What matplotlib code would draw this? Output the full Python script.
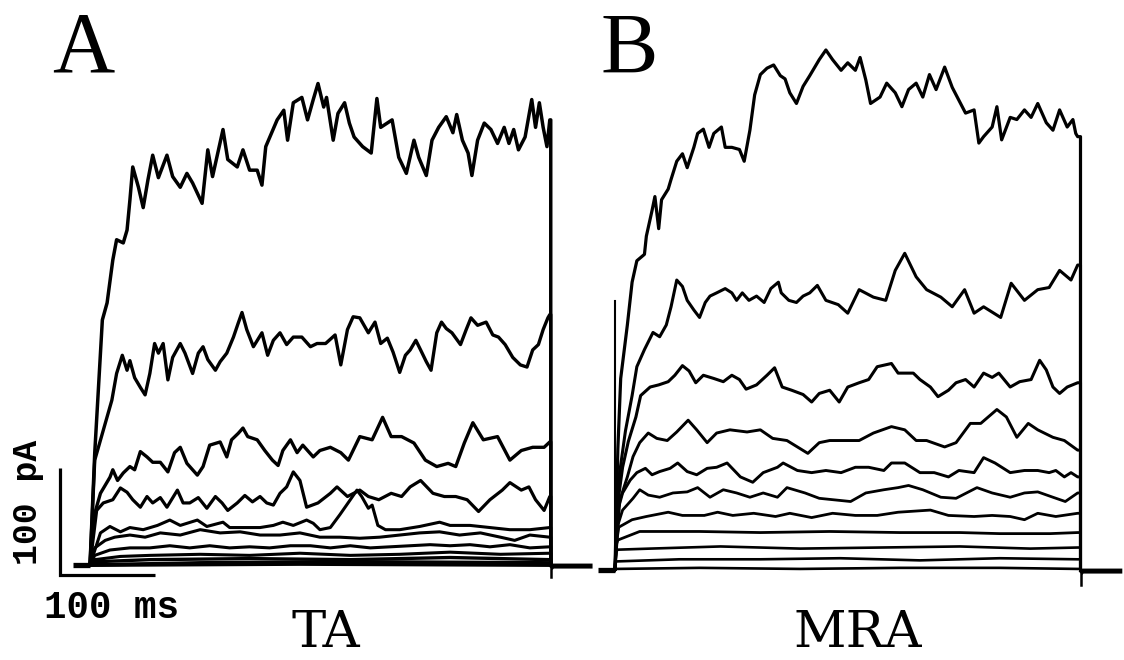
import matplotlib
matplotlib.use("Agg")
import matplotlib.pyplot as plt

# ---- traces: time in ms from pulse onset, current in pA ----
# Panel A (TA)
ta1_t = [0, 5, 13, 18, 24, 28, 35, 39, 42, 45, 51, 56, 61, 66, 72, 81, 87, 95, 102, 108,
         118, 124, 129, 140, 145, 155, 161, 168, 176, 181, 185, 197, 204, 208, 214, 223, 229, 235, 240, 246,
         249, 256, 261, 268, 273, 278, 287, 296, 302, 306, 318, 325, 333, 341, 346, 354, 360, 367, 375, 382,
         386, 392, 398, 402, 408, 415, 422, 429, 436, 441, 446, 451, 458, 465, 469, 473, 477, 481, 484]
ta1_i = [0, 105, 229, 245, 285, 304, 301, 313, 341, 372, 353, 334, 360, 383, 362, 383, 363, 353, 366, 357,
         338, 388, 363, 407, 379, 372, 388, 369, 369, 355, 391, 416, 425, 397, 432, 437, 416, 435, 450, 428,
         437, 397, 422, 432, 413, 400, 391, 385, 436, 409, 416, 381, 366, 397, 381, 364, 397, 409, 419, 404,
         421, 397, 385, 364, 397, 413, 407, 394, 409, 394, 407, 388, 400, 435, 409, 432, 409, 391, 416]

ta2_t = [0, 5, 14, 23, 28, 34, 39, 42, 47, 53, 58, 63, 68, 72, 77, 82, 87, 95, 100, 108,
         114, 119, 124, 132, 137, 144, 151, 156, 160, 165, 172, 181, 187, 193, 200, 207, 214, 223, 232, 239,
         248, 258, 264, 271, 277, 284, 293, 300, 306, 313, 319, 326, 332, 337, 343, 348, 354, 359, 365, 370,
         375, 381, 390, 396, 401, 408, 417, 424, 430, 437, 445, 453, 460, 466, 472, 477, 482, 484]
ta2_i = [0, 98, 126, 154, 179, 196, 182, 191, 175, 166, 159, 179, 207, 198, 207, 173, 194, 207, 198, 179,
         198, 204, 192, 182, 190, 198, 213, 226, 236, 220, 204, 217, 196, 210, 217, 206, 213, 213, 204, 207,
         207, 215, 187, 220, 232, 231, 217, 227, 207, 212, 199, 180, 196, 201, 210, 201, 190, 182, 217, 227,
         221, 217, 206, 220, 231, 224, 227, 215, 213, 206, 194, 187, 185, 201, 206, 220, 231, 234]

ta3_t = [0, 3, 11, 21, 24, 29, 35, 42, 47, 53, 60, 66, 74, 82, 89, 95, 102, 113, 119, 126,
         137, 144, 149, 156, 161, 166, 176, 184, 192, 198, 203, 211, 218, 224, 235, 242, 253, 264, 272, 284,
         297, 308, 317, 328, 341, 353, 365, 377, 385, 394, 403, 414, 429, 442, 454, 466, 478, 484]
ta3_i = [0, 42, 67, 82, 89, 79, 86, 92, 89, 106, 101, 96, 96, 87, 105, 110, 95, 84, 92, 112,
         115, 101, 117, 123, 128, 120, 117, 107, 98, 93, 107, 117, 105, 112, 101, 107, 110, 105, 98, 120,
         117, 138, 120, 120, 114, 98, 92, 95, 92, 114, 133, 117, 120, 98, 107, 110, 110, 115]

ta4_t = [0, 7, 14, 24, 32, 39, 45, 53, 60, 66, 74, 81, 92, 98, 105, 114, 123, 132, 139, 145,
         155, 163, 171, 179, 186, 193, 200, 207, 214, 221, 228, 240, 253, 260, 271, 284, 293, 304, 317, 328,
         337, 348, 361, 373, 385, 397, 409, 421, 434, 442, 454, 462, 469, 478, 484]
ta4_i = [0, 51, 58, 61, 72, 68, 61, 54, 64, 58, 63, 54, 70, 58, 58, 63, 53, 64, 58, 51,
         58, 65, 59, 64, 58, 56, 67, 73, 87, 79, 54, 58, 67, 73, 64, 70, 64, 61, 67, 64,
         73, 79, 67, 64, 64, 61, 50, 61, 70, 77, 70, 73, 61, 51, 64]

ta5_t = [0, 11, 21, 32, 42, 56, 71, 84, 95, 113, 123, 140, 147, 165, 179, 193, 203, 214, 228, 235,
         242, 253, 263, 274, 281, 286, 293, 297, 303, 311, 326, 347, 368, 379, 400, 421, 442, 463, 484]
ta5_i = [0, 30, 36, 31, 35, 33, 37, 42, 37, 42, 36, 40, 35, 35, 35, 37, 40, 37, 42, 39,
         33, 35, 47, 61, 70, 64, 53, 56, 37, 33, 33, 36, 40, 37, 37, 35, 33, 33, 35]

ta6_t = [0, 5, 16, 26, 42, 58, 74, 95, 116, 137, 158, 179, 200, 221, 242, 263, 284, 305, 326, 347,
         368, 389, 411, 432, 447, 463, 484]
ta6_i = [0, 16, 23, 26, 28, 26, 30, 28, 33, 30, 31, 28, 28, 30, 26, 26, 25, 26, 28, 30,
         31, 28, 30, 26, 23, 28, 26]

ta7_t = [0, 5, 21, 42, 63, 84, 105, 126, 147, 168, 189, 211, 232, 253, 274, 295, 316, 337, 358, 379,
         400, 421, 442, 463, 484]
ta7_i = [0, 9, 14, 16, 16, 18, 16, 18, 16, 17, 16, 18, 18, 16, 18, 16, 17, 18, 19, 18,
         19, 17, 19, 16, 17]

ta8_t = [0, 5, 32, 63, 116, 168, 221, 274, 326, 379, 432, 484]
ta8_i = [0, 5, 8, 9, 10, 9, 11, 9, 10, 12, 10, 11]

ta9_t = [0, 5, 63, 168, 274, 379, 484]
ta9_i = [0, 3, 5, 6, 5, 7, 5]

ta10_t = [0, 116, 274, 484]
ta10_i = [0, 2, 3, 2]

ta11_t = [0, 221, 484]
ta11_i = [0, 1, 0]

# Panel B (MRA)
mra1_t = [0, 3, 6, 13, 18, 23, 31, 33, 39, 42, 46, 49, 56, 59, 65, 71, 76, 83, 87, 93,
          99, 104, 112, 116, 123, 131, 136, 142, 147, 153, 160, 167, 174, 179, 184, 191, 198, 205, 215, 222,
          229, 238, 245, 253, 258, 264, 269, 279, 286, 295, 302, 309, 317, 324, 331, 338, 347, 355, 362, 369,
          378, 383, 388, 397, 402, 407, 416, 423, 431, 438, 445, 454, 461, 468, 476, 482, 485, 487]
mra1_i = [0, 113, 179, 229, 269, 289, 295, 312, 336, 349, 319, 346, 356, 365, 382, 389, 376, 395, 408, 412,
          395, 408, 414, 395, 395, 393, 382, 411, 444, 463, 469, 472, 462, 459, 446, 436, 452, 462, 477, 486,
          477, 467, 474, 467, 479, 458, 436, 442, 455, 446, 433, 449, 455, 442, 463, 449, 470, 451, 439, 427,
          430, 399, 405, 414, 433, 402, 423, 421, 430, 423, 436, 418, 411, 430, 414, 421, 408, 405]

mra2_t = [0, 3, 11, 18, 23, 31, 40, 47, 54, 59, 65, 71, 76, 83, 89, 95, 100, 107, 116, 123,
          128, 134, 141, 149, 157, 164, 172, 175, 183, 191, 198, 205, 213, 222, 235, 245, 257, 272, 285, 295,
          305, 317, 328, 343, 355, 368, 378, 388, 406, 417, 431, 445, 457, 468, 480, 487]
mra2_i = [0, 79, 130, 163, 190, 206, 222, 218, 229, 246, 271, 265, 252, 243, 236, 250, 256, 259, 263, 259,
          252, 259, 252, 256, 250, 263, 269, 259, 252, 250, 256, 259, 266, 252, 248, 240, 262, 255, 252, 280,
          296, 274, 262, 255, 246, 262, 240, 246, 236, 268, 252, 262, 264, 280, 271, 285]

mra3_t = [0, 3, 8, 14, 22, 27, 37, 46, 56, 63, 71, 78, 85, 93, 104, 114, 123, 131, 138, 149,
          160, 168, 176, 186, 198, 207, 215, 226, 236, 245, 257, 267, 276, 291, 298, 314, 321, 332, 340, 351,
          359, 369, 378, 388, 397, 404, 416, 426, 438, 447, 454, 461, 468, 476, 487]
mra3_i = [0, 63, 96, 120, 143, 163, 171, 173, 176, 182, 191, 186, 175, 182, 179, 176, 182, 178, 169, 173,
          182, 189, 171, 168, 164, 157, 165, 168, 157, 171, 175, 178, 190, 193, 184, 184, 178, 171, 162, 168,
          175, 178, 171, 184, 180, 184, 171, 176, 178, 196, 187, 171, 165, 171, 175]

mra4_t = [0, 5, 13, 19, 26, 35, 44, 55, 65, 77, 86, 97, 107, 121, 139, 153, 166, 181, 192, 203,
          215, 226, 241, 257, 272, 291, 305, 317, 328, 347, 359, 374, 385, 402, 412, 423, 435, 445, 461, 473, 487]
mra4_i = [0, 65, 87, 106, 119, 128, 123, 121, 129, 140, 131, 119, 128, 131, 129, 131, 123, 121, 115, 109,
          119, 121, 121, 121, 128, 134, 131, 121, 121, 115, 119, 137, 137, 150, 143, 124, 137, 131, 124, 121, 112]

mra5_t = [0, 3, 8, 16, 23, 32, 39, 47, 58, 66, 76, 86, 97, 107, 118, 132, 145, 156, 171, 177,
          192, 207, 222, 238, 253, 267, 283, 291, 305, 321, 336, 351, 362, 378, 388, 400, 416, 431, 445, 457,
          464, 473, 480, 487]
mra5_i = [0, 56, 72, 84, 91, 95, 89, 92, 95, 100, 92, 89, 95, 96, 100, 87, 82, 91, 96, 100,
          93, 91, 93, 91, 96, 96, 93, 100, 100, 91, 91, 87, 93, 91, 105, 100, 91, 93, 93, 91,
          93, 87, 91, 87]

mra6_t = [0, 2, 8, 19, 26, 35, 47, 61, 76, 87, 100, 114, 128, 142, 156, 171, 181, 200, 215, 248,
          264, 283, 298, 309, 324, 343, 359, 381, 397, 416, 431, 445, 461, 474, 487]
mra6_i = [0, 39, 56, 67, 75, 70, 68, 72, 73, 77, 68, 75, 72, 68, 72, 68, 77, 72, 67, 64,
          72, 75, 77, 79, 75, 68, 67, 77, 72, 68, 72, 73, 68, 64, 72]

mra7_t = [0, 2, 4, 18, 33, 56, 71, 94, 108, 124, 146, 169, 184, 207, 229, 253, 276, 298, 332, 351,
          378, 397, 416, 431, 445, 464, 487]
mra7_i = [0, 28, 40, 47, 50, 54, 51, 51, 54, 51, 53, 50, 53, 49, 53, 51, 51, 54, 56, 51,
          50, 51, 50, 47, 53, 50, 53]

mra8_t = [0, 1, 3, 26, 89, 153, 226, 300, 363, 405, 458, 487]
mra8_i = [0, 23, 28, 36, 36, 35, 36, 35, 35, 34, 34, 35]

mra9_t = [0, 1, 3, 37, 111, 195, 279, 363, 437, 487]
mra9_i = [0, 17, 19, 20, 22, 20, 21, 22, 20, 21]

mra10_t = [0, 1, 68, 153, 237, 321, 405, 487]
mra10_i = [0, 8, 10, 10, 11, 9, 11, 10]

mra11_t = [0, 1, 89, 195, 300, 405, 487]
mra11_i = [0, 1, 2, 1, 2, 2, 1]

# capacitive spike at the start of the MRA pulses
mra_spike_i = 251

TA_PULSE_MS = 485
MRA_PULSE_MS = 490
TA_UNDERSHOOT = -11
MRA_UNDERSHOOT = -14

# ---- layout (pixels of the 1124x660 picture) ----
W, H = 1124, 660
PX_PER_MS = 0.95
PX_PER_PA = 1.07
A_ONSET, A_BASE = 90, 565
B_ONSET, B_BASE = 615, 570

TRACE_COLOR = "black"

fig = plt.figure(figsize=(W / 100, H / 100), dpi=100)
fig.patch.set_facecolor("white")


def panel_axes(onset, base):
    ax = fig.add_axes([0, 0, 1, 1])
    ax.set_facecolor("none")
    ax.set_xlim(-onset / PX_PER_MS, (W - onset) / PX_PER_MS)
    ax.set_ylim(-(H - base) / PX_PER_PA, base / PX_PER_PA)
    ax.set_axis_off()
    return ax


def draw_panel(ax, traces, pulse, undershoot, widths):
    for (t, i), lw in zip(traces, widths):
        ax.plot(list(t) + [pulse, pulse], list(i) + [i[-1], 0],
                color=TRACE_COLOR, lw=lw, solid_joinstyle="round", solid_capstyle="round")
    # holding current before and after the pulse
    ax.plot([-18, 0], [0, 0], color=TRACE_COLOR, lw=3.8, solid_capstyle="butt")
    ax.plot([pulse, pulse], [0, undershoot], color=TRACE_COLOR, lw=1.8)
    ax.plot([pulse, pulse + 2, pulse + 44], [-3, -1, -1], color=TRACE_COLOR, lw=3.6,
            solid_capstyle="butt")


axA = panel_axes(A_ONSET, A_BASE)
axB = panel_axes(B_ONSET, B_BASE)

ta_traces = [(ta1_t, ta1_i), (ta2_t, ta2_i), (ta3_t, ta3_i), (ta4_t, ta4_i), (ta5_t, ta5_i),
             (ta6_t, ta6_i), (ta7_t, ta7_i), (ta8_t, ta8_i), (ta9_t, ta9_i), (ta10_t, ta10_i),
             (ta11_t, ta11_i)]
mra_traces = [(mra1_t, mra1_i), (mra2_t, mra2_i), (mra3_t, mra3_i), (mra4_t, mra4_i),
              (mra5_t, mra5_i), (mra6_t, mra6_i), (mra7_t, mra7_i), (mra8_t, mra8_i),
              (mra9_t, mra9_i), (mra10_t, mra10_i), (mra11_t, mra11_i)]

draw_panel(axA, ta_traces, TA_PULSE_MS, TA_UNDERSHOOT,
           [2.5, 2.4, 2.4, 2.3, 2.2, 2.2, 2.2, 2.2, 2.4, 2.6, 2.8])
draw_panel(axB, mra_traces, MRA_PULSE_MS, MRA_UNDERSHOOT,
           [2.3, 2.2, 2.2, 2.1, 2.1, 2.0, 2.0, 2.0, 1.9, 1.9, 1.9])
axB.plot([0, 0], [0, mra_spike_i], color=TRACE_COLOR, lw=1.5)

# scale bars: 100 ms x 100 pA
axA.plot([-32, -32, 68], [91, -9, -9], color=TRACE_COLOR, lw=2.3,
         solid_joinstyle="miter", solid_capstyle="butt")


def px(x, y):
    return x / W, 1 - y / H


mono = dict(family=["Liberation Mono", "DejaVu Sans Mono"], weight="bold")
fig.text(*px(27, 502), "100 pA", rotation=90, ha="center", va="center", fontsize=25, **mono)
fig.text(*px(111, 618), "100 ms", ha="center", va="baseline", fontsize=27, **mono)

serif = ["Liberation Serif", "DejaVu Serif"]
fig.text(*px(83, 71), "A", ha="center", va="baseline", fontsize=62, family=serif)
fig.text(*px(629, 73), "B", ha="center", va="baseline", fontsize=62, family=serif)

fig.text(*px(326, 647), "TA", ha="center", va="baseline", fontsize=37, family="DejaVu Serif")
fig.text(*px(858, 647), "MRA", ha="center", va="baseline", fontsize=37, family="DejaVu Serif")

fig.savefig("out.png", dpi=100, facecolor="white")
